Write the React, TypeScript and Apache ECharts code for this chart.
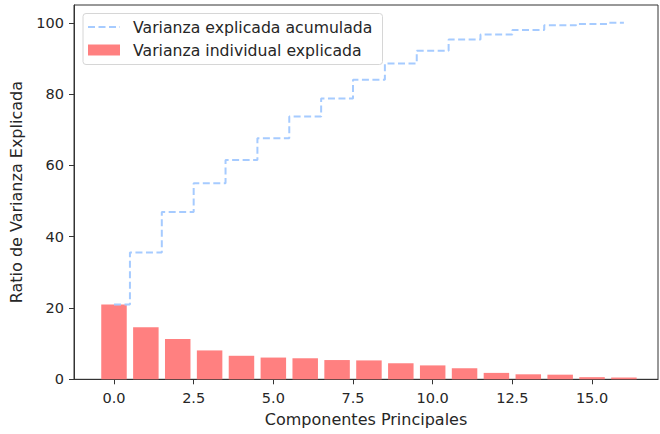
import React, { useEffect, useRef } from "react";
import * as echarts from "echarts";

const components = [0, 1, 2, 3, 4, 5, 6, 7, 8, 9, 10, 11, 12, 13, 14, 15, 16];
const individualVariance = [21.0, 14.6, 11.3, 8.1, 6.6, 6.1, 5.9, 5.4, 5.3, 4.5, 3.9, 3.1, 1.8, 1.4, 1.3, 0.6, 0.5];
const cumulativeVariance = [21.0, 35.6, 46.9, 55.0, 61.5, 67.6, 73.7, 78.8, 84.0, 88.6, 92.2, 95.3, 96.7, 98.0, 99.3, 99.7, 100.0];
const xTicks = [0, 2.5, 5, 7.5, 10, 12.5, 15];
const yTicks = [0, 20, 40, 60, 80, 100];

const FONT = "DejaVu Sans";
const TEXT = "#262626";
const TICK_FS = 14.5;
const TITLE_FS = 16;
const LEGEND_FS = 15.7;

export default function App() {
  const ref = useRef<HTMLDivElement>(null);
  useEffect(() => {
    if (!ref.current) return;
    const chart = echarts.init(ref.current, undefined, { renderer: "svg" });
    const gridLeft = 74;
    const gridRight = 2;
    const xMin = -1.255;
    const xMax = 17.07;
    const gridWidth = 660 - gridLeft - gridRight;
    const barW = (0.8 * gridWidth) / (xMax - xMin);
    chart.setOption({
      animation: false,
      grid: {
        left: gridLeft,
        right: gridRight,
        top: 5,
        bottom: 54.7,
        outerBoundsMode: "none",
        containLabel: false,
        show: true,
        borderColor: "#333",
        borderWidth: 1,
        backgroundColor: "transparent",
      },
      xAxis: {
        type: "value",
        min: xMin,
        max: xMax,
        name: "Componentes Principales",
        nameLocation: "middle",
        nameGap: 32,
        nameTextStyle: { fontFamily: FONT, fontSize: TITLE_FS, color: TEXT },
        axisLine: { show: true, onZero: false, lineStyle: { color: "#333" } },
        axisTick: { show: true, length: 5, customValues: xTicks, lineStyle: { color: "#333" } },
        axisLabel: {
          customValues: xTicks,
          formatter: (v: number) => v.toFixed(1),
          fontFamily: FONT,
          fontSize: TICK_FS,
          color: TEXT,
          margin: 11,
        },
        splitLine: { show: false },
      },
      yAxis: {
        type: "value",
        min: 0,
        max: 105,
        name: "Ratio de Varianza Explicada",
        nameLocation: "middle",
        nameGap: 50,
        nameTextStyle: { fontFamily: FONT, fontSize: TITLE_FS, color: TEXT },
        axisLine: { show: true, onZero: false, lineStyle: { color: "#333" } },
        axisTick: { show: true, length: 5, customValues: yTicks, lineStyle: { color: "#333" } },
        axisLabel: {
          customValues: yTicks,
          fontFamily: FONT,
          fontSize: TICK_FS,
          color: TEXT,
          margin: 10,
        },
        splitLine: { show: false },
      },
      series: [
        {
          type: "bar",
          name: "Varianza individual explicada",
          data: components.map((c, i) => [c, individualVariance[i]]),
          barWidth: barW,
          itemStyle: { color: "#ff8080" },
          z: 2,
        },
        {
          type: "line",
          name: "Varianza explicada acumulada",
          data: components.map((c, i) => [c, cumulativeVariance[i]]),
          step: "middle",
          showSymbol: false,
          symbol: "none",
          lineStyle: { color: "#a6cbff", width: 2, type: [7, 3.5] },
          z: 3,
        },
      ],
      graphic: [
        {
          type: "rect",
          shape: { x: 83, y: 13.5, width: 299.5, height: 51, r: 3 },
          style: { fill: "rgba(255,255,255,0.8)", stroke: "#d6d6d6", lineWidth: 1 },
          z: 10,
        },
        {
          type: "line",
          shape: { x1: 88, y1: 27, x2: 120, y2: 27 },
          style: { stroke: "#a6cbff", lineWidth: 2, lineDash: [7, 3.5] },
          z: 11,
        },
        {
          type: "rect",
          shape: { x: 88, y: 44.5, width: 32, height: 11 },
          style: { fill: "#ff8080" },
          z: 11,
        },
        {
          type: "text",
          x: 133,
          y: 27,
          style: {
            text: "Varianza explicada acumulada",
            fontFamily: FONT,
            fontSize: LEGEND_FS,
            fill: TEXT,
            verticalAlign: "middle",
          },
          z: 11,
        },
        {
          type: "text",
          x: 133,
          y: 50,
          style: {
            text: "Varianza individual explicada",
            fontFamily: FONT,
            fontSize: LEGEND_FS,
            fill: TEXT,
            verticalAlign: "middle",
          },
          z: 11,
        },
      ],
    });
    return () => chart.dispose();
  }, []);
  return (
    <div
      ref={ref}
      style={{ position: "fixed", left: 0, top: 0, width: 660, height: 434, background: "#fff" }}
    />
  );
}
